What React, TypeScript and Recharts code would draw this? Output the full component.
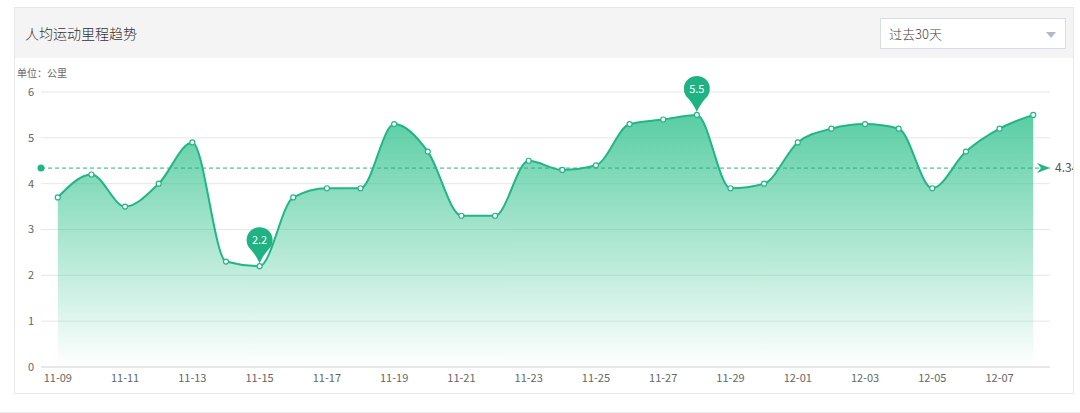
import { AreaChart, Area, XAxis, YAxis, CartesianGrid, ReferenceLine, ReferenceDot } from "recharts";

const dates = [
  "11-09", "11-10", "11-11", "11-12", "11-13", "11-14", "11-15", "11-16", "11-17", "11-18",
  "11-19", "11-20", "11-21", "11-22", "11-23", "11-24", "11-25", "11-26", "11-27", "11-28",
  "11-29", "11-30", "12-01", "12-02", "12-03", "12-04", "12-05", "12-06", "12-07", "12-08",
];
const mileage = [
  3.7, 4.2, 3.5, 4.0, 4.9, 2.3, 2.2, 3.7, 3.9, 3.9,
  5.3, 4.7, 3.3, 3.3, 4.5, 4.3, 4.4, 5.3, 5.4, 5.5,
  3.9, 4.0, 4.9, 5.2, 5.3, 5.2, 3.9, 4.7, 5.2, 5.5,
];
const yTicks = [0, 1, 2, 3, 4, 5, 6];

const GREEN = "#22b586";
const FONT = '"Microsoft YaHei", "Noto Sans CJK SC", sans-serif';

const data = dates.map((d, i) => ({ date: d, value: mileage[i] }));
const avg = Math.round((mileage.reduce((s, v) => s + v, 0) / mileage.length) * 100) / 100;
const maxVal = Math.max(...mileage);
const minVal = Math.min(...mileage);
const maxDate = dates[mileage.indexOf(maxVal)];
const minDate = dates[mileage.indexOf(minVal)];

function Pin(props: any) {
  const { cx, cy, label } = props;
  if (cx == null || cy == null) return null;
  const tipY = cy - 3;
  const r = 13;
  const c = tipY - 23;
  const sx = r * Math.sin((57 * Math.PI) / 180);
  const sy = r * Math.cos((57 * Math.PI) / 180);
  const d = `M ${cx} ${tipY} Q ${cx - 4} ${c + 14} ${cx - sx} ${c + sy} A ${r} ${r} 0 1 1 ${cx + sx} ${c + sy} Q ${cx + 4} ${c + 14} ${cx} ${tipY} Z`;
  return (
    <g>
      <path d={d} fill="#1fb282" />
      <text x={cx} y={c + 4} textAnchor="middle" fill="#fff" fontSize={11} fontFamily={FONT}>
        {label}
      </text>
    </g>
  );
}

function AvgLabel(props: any) {
  const { viewBox } = props;
  if (!viewBox) return null;
  const { x, y, width } = viewBox;
  const ex = x + width;
  return (
    <g>
      <circle cx={x} cy={y} r={3.5} fill={GREEN} />
      <path d={`M ${ex - 13} ${y - 5} L ${ex} ${y} L ${ex - 13} ${y + 5} L ${ex - 9} ${y} Z`} fill={GREEN} />
      <text x={ex + 5} y={y + 4} fill="#555" fontSize={12} fontFamily={FONT}>
        {avg.toFixed(2)}
      </text>
    </g>
  );
}

export default function App() {
  return (
    <div style={{ position: "absolute", left: 0, top: 0, width: 1080, height: 413, background: "#fff", fontFamily: FONT, overflow: "hidden" }}>
      <div style={{ position: "absolute", left: 0, top: 412, width: 1080, height: 1, background: "#ececec" }} />
      <div
        style={{
          position: "absolute",
          left: 14,
          top: 7,
          width: 1058,
          height: 385,
          border: "1px solid #e8e8e8",
          overflow: "hidden",
        }}
      >
        <div style={{ position: "absolute", left: 0, top: 0, width: 1058, height: 50, background: "#f4f4f4" }} />
        <div style={{ position: "absolute", left: 10, top: 15, fontSize: 14, color: "#333", lineHeight: "20px", fontWeight: 300 }}>
          人均运动里程趋势
        </div>
        <div
          style={{
            position: "absolute",
            left: 865,
            top: 10,
            width: 184,
            height: 29,
            background: "#fff",
            border: "1px solid #d6dce8",
          }}
        >
          <div style={{ position: "absolute", left: 8, top: 6, fontSize: 13, color: "#444", lineHeight: "17px", fontWeight: 300 }}>过去30天</div>
          <div
            style={{
              position: "absolute",
              left: 165,
              top: 13,
              width: 0,
              height: 0,
              borderLeft: "5px solid transparent",
              borderRight: "5px solid transparent",
              borderTop: "6px solid #b0b9cb",
            }}
          />
        </div>
        <div style={{ position: "absolute", left: 2, top: 58, fontSize: 10, color: "#666", lineHeight: "14px" }}>单位：公里</div>
        <div style={{ position: "absolute", left: -15, top: -8 }}>
          <AreaChart width={1080} height={413} data={data} margin={{ top: 92, right: 30, bottom: 0, left: 0 }}>
            <defs>
              <linearGradient id="mileFill" x1="0" y1="0" x2="0" y2="1">
                <stop offset="0%" stopColor="#3cc594" stopOpacity={0.85} />
                <stop offset="100%" stopColor="#3cc594" stopOpacity={0} />
              </linearGradient>
            </defs>
            <CartesianGrid vertical={false} stroke="#e6e6e6" />
            <XAxis
              dataKey="date"
              interval={1}
              padding={{ left: 16.8, right: 16.8 }}
              height={46}
              tickSize={0}
              tickMargin={7}
              axisLine={{ stroke: "#dcdcdc" }}
              tick={{ fill: "#666", fontSize: 11, fontFamily: FONT }}
            />
            <YAxis
              domain={[0, 6]}
              ticks={yTicks}
              width={41}
              tickSize={0}
              tickMargin={7}
              axisLine={false}
              tick={{ fill: "#666", fontSize: 11, fontFamily: FONT }}
            />
            <Area
              type="monotone"
              dataKey="value"
              stroke={GREEN}
              strokeWidth={2}
              fill="url(#mileFill)"
              fillOpacity={1}
              dot={{ r: 2.5, fill: "#fff", stroke: GREEN, strokeWidth: 1.2 }}
              isAnimationActive={false}
            />
            <ReferenceLine y={avg} stroke={GREEN} strokeDasharray="4 3" strokeWidth={1} label={<AvgLabel />} />
            <ReferenceDot x={maxDate} y={maxVal} shape={(p: any) => <Pin {...p} label={String(maxVal)} />} />
            <ReferenceDot x={minDate} y={minVal} shape={(p: any) => <Pin {...p} label={String(minVal)} />} />
          </AreaChart>
        </div>
      </div>
    </div>
  );
}
